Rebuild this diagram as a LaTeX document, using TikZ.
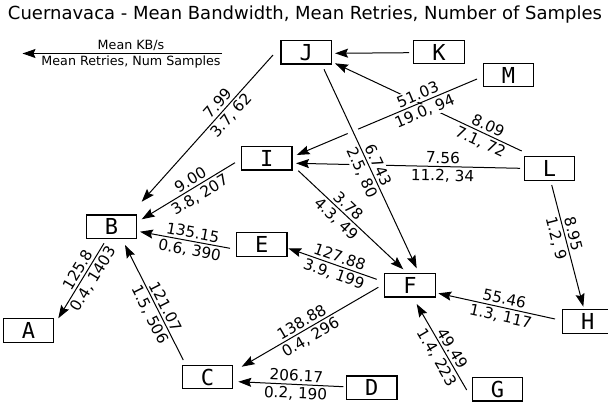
\documentclass[tikz,border=0pt]{standalone}
\usepackage{fontspec}
\setmainfont{DejaVu Sans}
\newfontfamily\boxfont{DejaVu Sans Mono}
\usetikzlibrary{calc,arrows.meta}

\begin{document}
\begin{tikzpicture}[x=1pt,y=-1pt,
  box/.style={draw, line width=1.3pt, minimum width=50.5pt, minimum height=23.5pt,
    inner sep=0pt, font=\boxfont\fontsize{22}{22}\selectfont},
  link/.style={line width=1pt, -{Stealth[length=13pt,width=9pt,inset=2pt]}},
  halo/.style={preaction={draw=white, line width=11pt, arrows=-, shorten <=8pt, shorten >=18pt}},
  kb/.style={sloped, above=1.5pt, fill=white, inner sep=1pt, font=\fontsize{15.3}{16}\selectfont},
  rs/.style={sloped, below=1.5pt, fill=white, inner sep=1pt, font=\fontsize{15.3}{16}\selectfont},
  legtext/.style={inner sep=1pt, font=\fontsize{12.7}{13}\selectfont}]

\useasboundingbox (0,0) rectangle (608,405);

% title
\node[font=\fontsize{18}{18}\selectfont] (title) at (305,15)
  {Cuernavaca - Mean Bandwidth, Mean Retries, Number of Samples};

% legend
\coordinate (legR) at (222,53.5);
\coordinate (legL) at (22.5,53.5);
\draw[link] (legR) -- node[legtext, above=1pt, pos=0.456] {Mean KB/s}
  node[legtext, below=1pt, pos=0.456] {Mean Retries, Num Samples} (legL);

% stations
\node[box] (J) at (306.3,52.3) {J};
\node[box] (K) at (439,52) {K};
\node[box] (M) at (508.5,75) {M};
\node[box] (I) at (266.7,158.2) {I};
\node[box] (L) at (549.5,168.5) {L};
\node[box] (B) at (111.5,226.7) {B};
\node[box] (E) at (261.7,244.5) {E};
\node[box] (F) at (410,285.2) {F};
\node[box] (H) at (587.7,321.5) {H};
\node[box] (A) at (28.5,330.5) {A};
\node[box] (C) at (207.5,377) {C};
\node[box] (D) at (371.7,387.7) {D};
\node[box] (G) at (497.5,389.2) {G};

% links: mean KB/s above, mean retries and sample count below
\draw[link] ($(K)+(-30,0.7)$) -- ($(J)+(28.7,1)$);
\draw[link] ($(L)+(-27.8,-17.5)$) -- node[kb,pos=0.2] {8.09} node[rs,pos=0.2] {7.1, 72} ($(J)+(28.7,11)$);
\draw[link] ($(M)+(-31.5,4)$) -- node[kb,pos=0.31] {51.03} node[rs,pos=0.31] {19.0, 94} ($(I)+(30,-3.2)$);
\draw[link] ($(L)+(-29.5,-0.2)$) -- node[kb,pos=0.345] {7.56} node[rs,pos=0.345] {11.2, 34} ($(I)+(29.3,5.1)$);
\draw[link,halo] ($(J)+(17.7,17)$) -- node[kb,pos=0.5] {6.743} node[rs,pos=0.5] {2.5, 80} ($(F)+(6.7,-16.9)$);
\draw[link] ($(J)+(-33.3,2.7)$) -- node[kb,pos=0.37] {7.99} node[rs,pos=0.37] {3.7, 62} ($(B)+(30.2,-25)$);
\draw[link] ($(I)+(31.6,12.5)$) -- node[kb,pos=0.42] {3.78} node[rs,pos=0.42] {4.3, 49} ($(F)+(-6.7,-15.9)$);
\draw[link] ($(I)+(-31.7,4.5)$) -- node[kb,pos=0.43] {9.00} node[rs,pos=0.43] {3.8, 207} ($(B)+(30.2,-7.4)$);
\draw[link] ($(E)+(-31.7,3.8)$) -- node[kb,pos=0.43] {135.15} node[rs,pos=0.43] {0.6, 390} ($(B)+(28.5,5)$);
\draw[link] ($(F)+(-33.3,-5.9)$) -- node[kb,pos=0.45] {127.88} node[rs,pos=0.45] {3.9, 199} ($(E)+(26.6,3.8)$);
\draw[link] ($(F)+(-31.7,2.1)$) -- node[kb,pos=0.53] {138.88} node[rs,pos=0.53] {0.4, 296} ($(C)+(34.2,-10.3)$);
\draw[link] ($(D)+(-28.4,-1)$) -- node[kb,pos=0.45] {206.17} node[rs,pos=0.45] {0.2, 190} ($(C)+(30.8,4.7)$);
\draw[link] ($(C)+(-24.2,-17)$) -- node[kb,pos=0.43] {121.07} node[rs,pos=0.43] {1.5, 506} ($(B)+(13.5,18.3)$);
\draw[link] ($(B)+(-7.5,16.6)$) -- node[kb,pos=0.41] {125.8} node[rs,pos=0.41] {0.4, 1403} ($(A)+(29.8,-12.2)$);
\draw[link] ($(H)+(-32.7,-2.5)$) -- node[kb,pos=0.45] {55.46} node[rs,pos=0.45] {1.3, 117} ($(F)+(28.3,8.1)$);
\draw[link] ($(G)+(-30.8,0.8)$) -- node[kb,pos=0.43] {49.49} node[rs,pos=0.43] {1.4, 223} ($(F)+(6.7,18.8)$);
\draw[link] ($(L)+(2.2,16.5)$) -- node[kb,pos=0.42] {8.95} node[rs,pos=0.42] {1.2, 9} ($(H)+(-4.4,-14.8)$);

\end{tikzpicture}
\end{document}
